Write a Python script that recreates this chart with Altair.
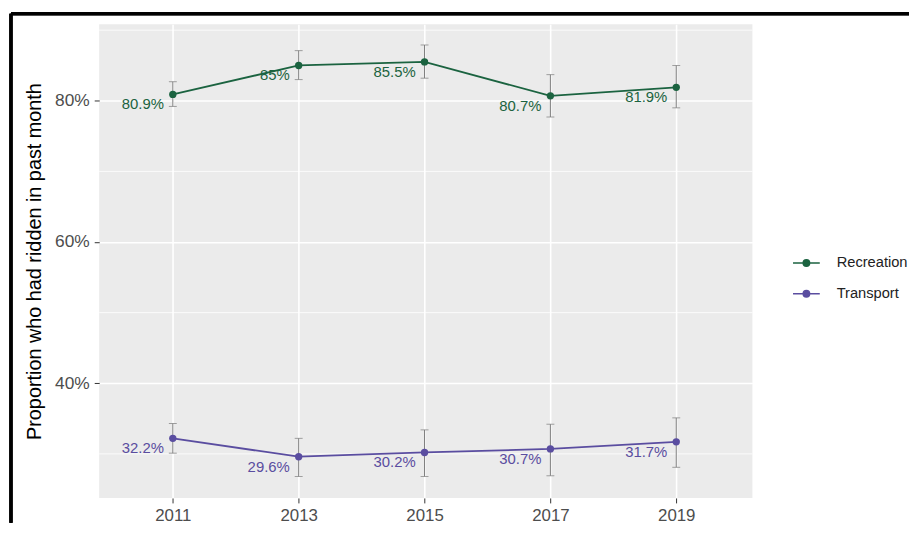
import altair as alt
import pandas as pd

years = [2011, 2013, 2015, 2017, 2019]
series_names = ["Recreation", "Transport"]
recreation = [80.9, 85.0, 85.5, 80.7, 81.9]
recreation_low = [79.2, 83.0, 83.2, 77.7, 79.0]
recreation_high = [82.7, 87.1, 87.9, 83.7, 85.0]
transport = [32.2, 29.6, 30.2, 30.7, 31.7]
transport_low = [30.1, 26.8, 26.8, 26.9, 28.1]
transport_high = [34.3, 32.2, 33.4, 34.2, 35.1]
y_major = [0.4, 0.6, 0.8]
y_minor = [0.3, 0.5, 0.7, 0.9]
y_title = "Proportion who had ridden in past month"

rows = []
for name, vals, lo, hi in [("Recreation", recreation, recreation_low, recreation_high),
                           ("Transport", transport, transport_low, transport_high)]:
    for yr, v, l, h in zip(years, vals, lo, hi):
        rows.append({"year": yr, "series": name, "p": v / 100, "lo": l / 100,
                     "hi": h / 100, "label": f"{v:g}%"})
df = pd.DataFrame(rows)
minor_df = pd.DataFrame({"y": y_minor})

GREEN = "#1b6340"
PURPLE = "#5a4da0"
FONT = "Liberation Sans"

xscale = alt.Scale(domain=[2009.83, 2020.21], nice=False, zero=False)
yscale = alt.Scale(domain=[0.2376, 0.9085], nice=False, zero=False)
cscale = alt.Scale(domain=series_names, range=[GREEN, PURPLE])

sym = ("M-1,0L1,0"
       "M-0.24,0A0.24,0.24,0,1,0,0.24,0A0.24,0.24,0,1,0,-0.24,0"
       "M-0.12,0A0.12,0.12,0,1,0,0.12,0A0.12,0.12,0,1,0,-0.12,0"
       "M-0.03,0A0.03,0.03,0,1,0,0.03,0A0.03,0.03,0,1,0,-0.03,0")

x_enc = alt.X("year:Q", scale=xscale, title=None,
              axis=alt.Axis(values=years, format="d", grid=True, gridColor="white",
                            gridWidth=1.6, domain=False, tickSize=5, tickColor="#333333",
                            labelPadding=5, labelFontSize=17, labelColor="#4d4d4d",
                            labelFont=FONT))
y_enc = alt.Y("p:Q", scale=yscale, title=y_title,
              axis=alt.Axis(values=y_major, format=".0%", grid=True, gridColor="white",
                            gridWidth=1.6, domain=False, tickSize=5, tickColor="#333333",
                            labelPadding=5, labelFontSize=17.5, labelColor="#4d4d4d",
                            labelFont=FONT, titleFont=FONT, titleFontSize=20,
                            titleFontWeight="normal", titleColor="#000000",
                            titlePadding=10))

base = alt.Chart(df)

minor = alt.Chart(minor_df).mark_rule(color="white", strokeWidth=0.8).encode(
    y=alt.Y("y:Q", scale=yscale))

err = base.mark_rule(color="#7a7a7a", strokeWidth=1).encode(
    x=alt.X("year:Q", scale=xscale), y=alt.Y("lo:Q", scale=yscale), y2="hi:Q")
cap_lo = base.mark_tick(color="#7a7a7a", thickness=1, size=8, orient="horizontal").encode(
    x=alt.X("year:Q", scale=xscale), y=alt.Y("lo:Q", scale=yscale))
cap_hi = base.mark_tick(color="#7a7a7a", thickness=1, size=8, orient="horizontal").encode(
    x=alt.X("year:Q", scale=xscale), y=alt.Y("hi:Q", scale=yscale))

line = base.mark_line(strokeWidth=1.8).encode(
    x=x_enc, y=y_enc,
    color=alt.Color("series:N", scale=cscale,
                    legend=alt.Legend(title=None, orient="none", legendX=699, legendY=226.5,
                                      symbolType=sym, symbolSize=729, symbolStrokeWidth=1.5,
                                      labelFontSize=14.8, labelFont=FONT, labelColor="#222222",
                                      labelOffset=16, rowPadding=9, padding=0)))
pts = base.mark_circle(size=55, opacity=1).encode(
    x=alt.X("year:Q", scale=xscale), y=alt.Y("p:Q", scale=yscale),
    color=alt.Color("series:N", scale=cscale, legend=None))
txt = base.mark_text(align="right", baseline="middle", dx=-9, dy=10, fontSize=15,
                     font=FONT).encode(
    x=alt.X("year:Q", scale=xscale), y=alt.Y("p:Q", scale=yscale),
    text="label:N",
    color=alt.Color("series:N", scale=cscale, legend=None))

border_left = alt.Chart(minor_df).mark_rule(color="black", strokeWidth=3).encode(
    x=alt.value(-89), y=alt.value(-10.5), y2=alt.value(503))
border_top = alt.Chart(minor_df).mark_rule(color="black", strokeWidth=3).encode(
    x=alt.value(-89), x2=alt.value(830), y=alt.value(-10.5))

chart = alt.layer(minor, line, err, cap_lo, cap_hi, pts, txt, border_left, border_top).properties(
    width=659, height=478,
    autosize=alt.AutoSizeParams(type="none"),
    padding={"left": 92, "top": 14, "right": 158, "bottom": 25},
    background="white",
).configure_view(fill="#ebebeb", stroke=None)

chart.save("out.html", embed_options={"renderer": "svg", "actions": False})
